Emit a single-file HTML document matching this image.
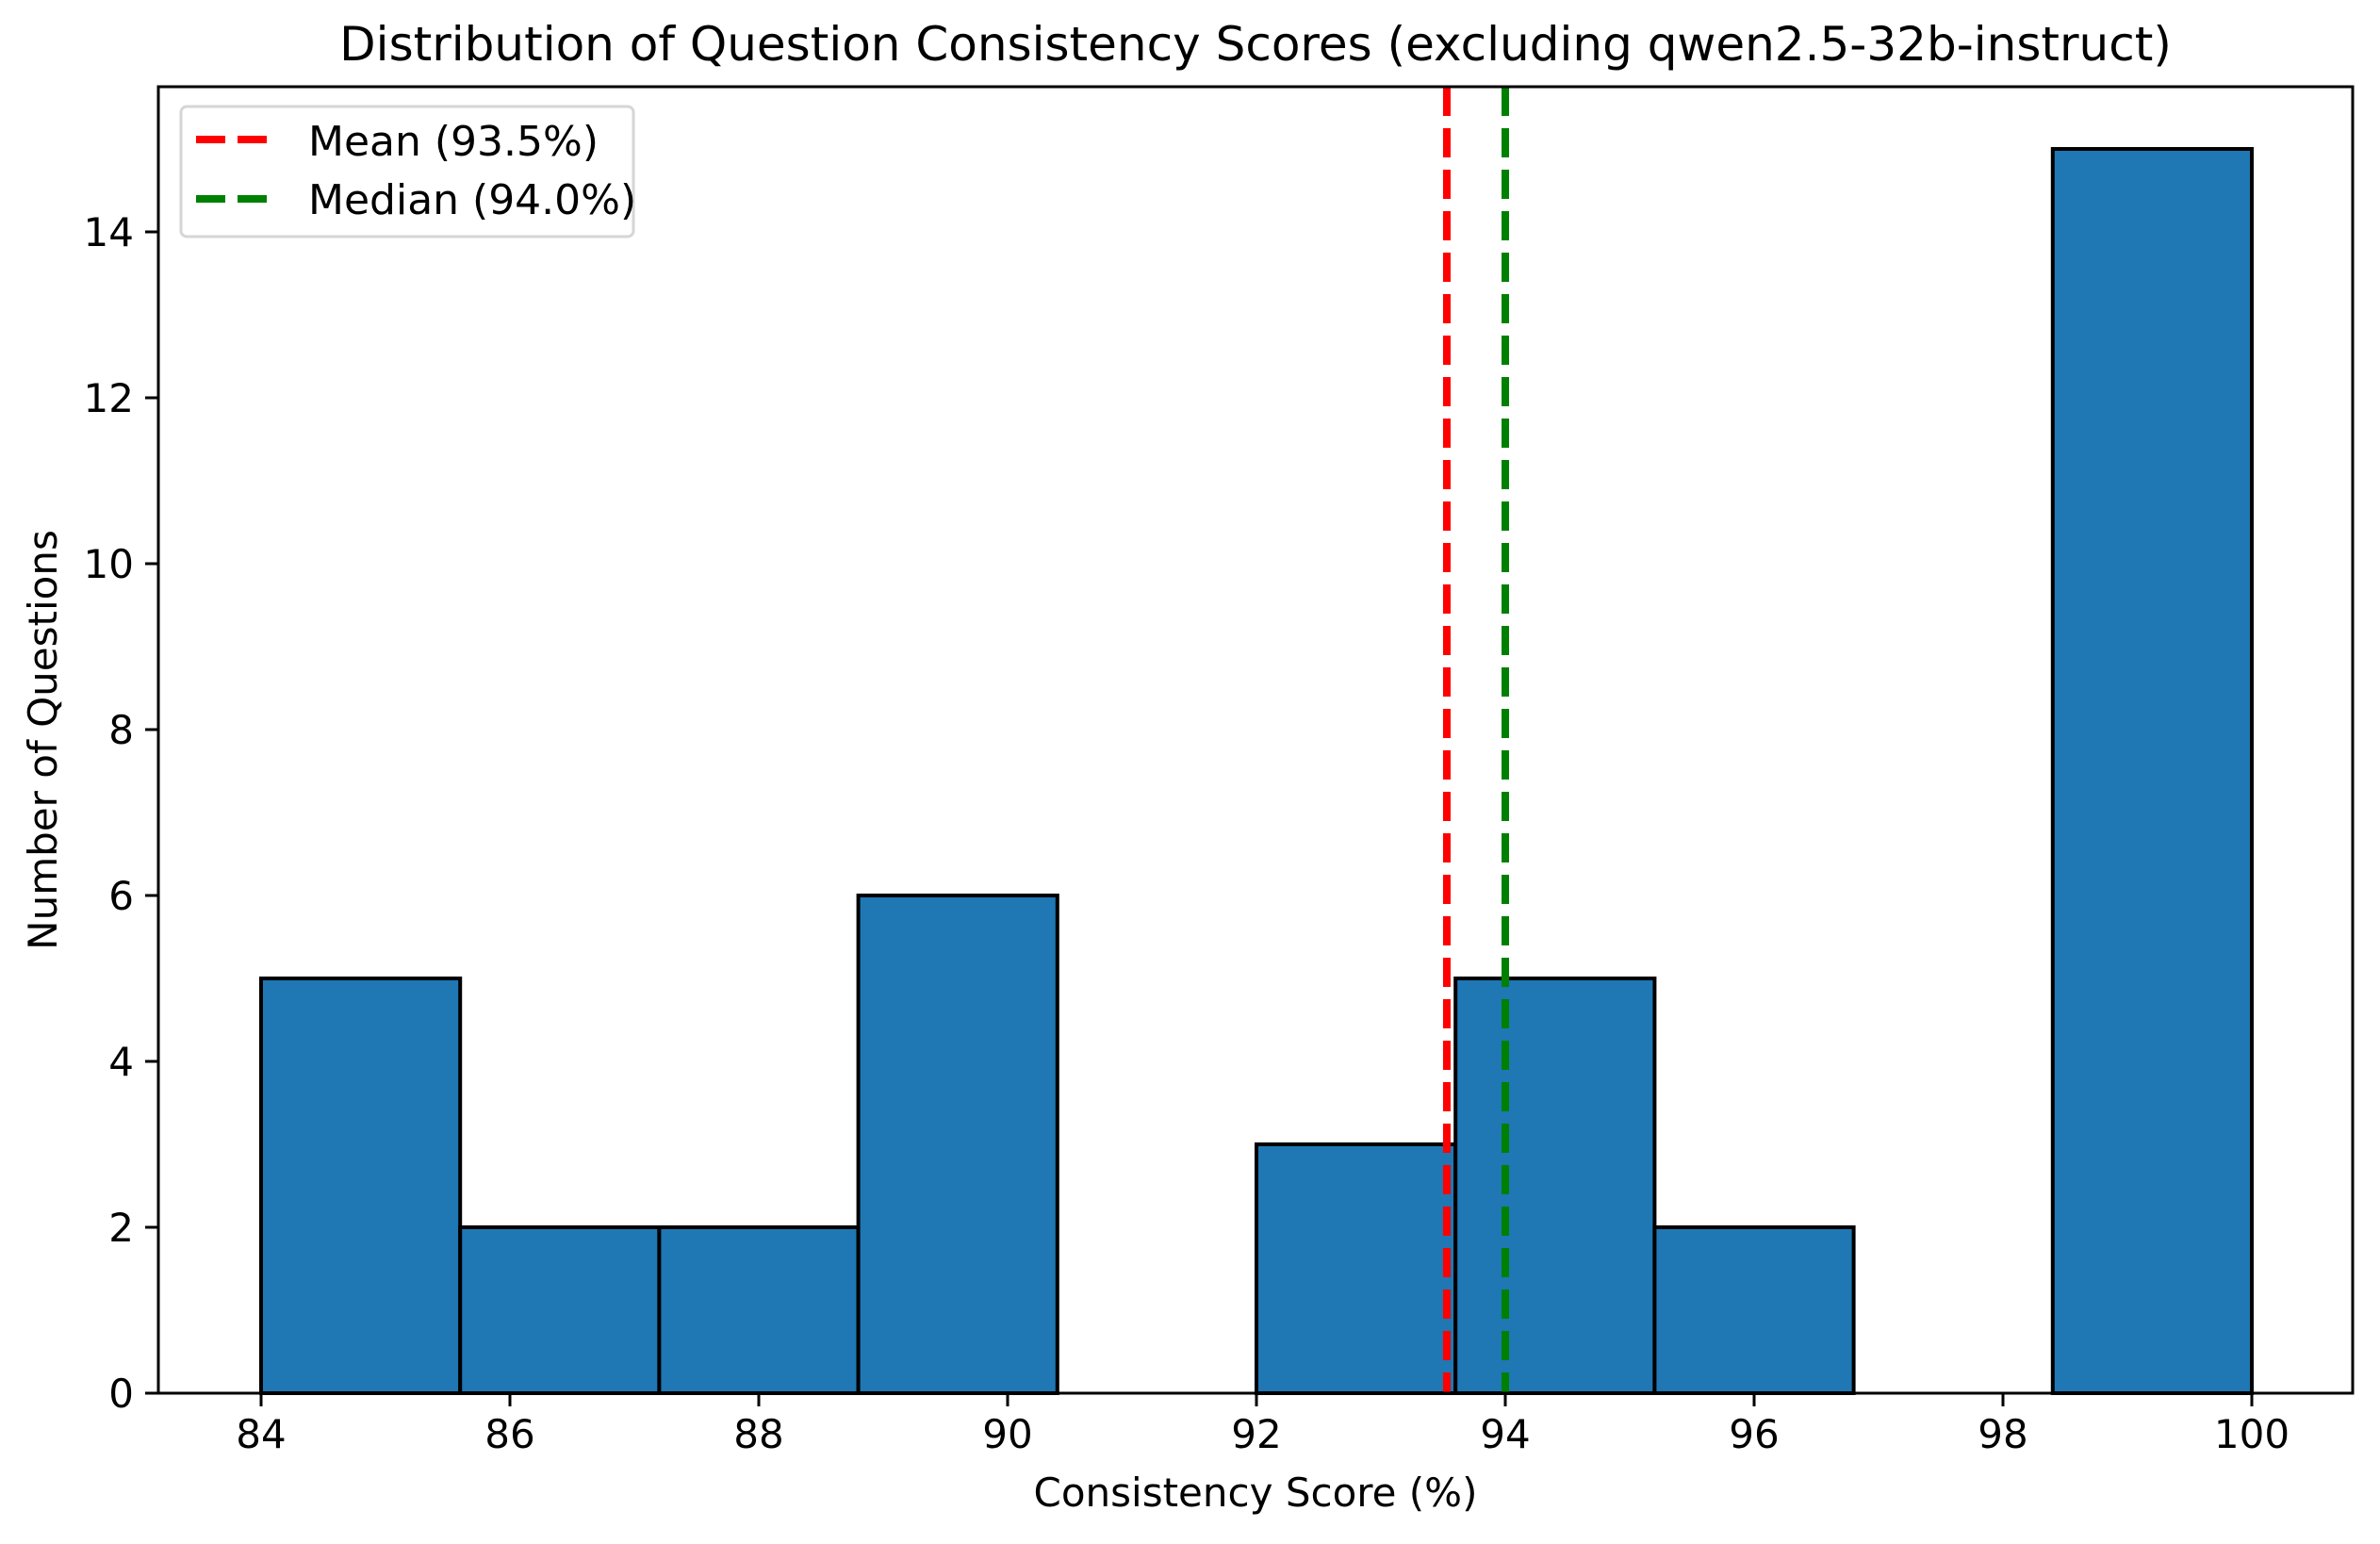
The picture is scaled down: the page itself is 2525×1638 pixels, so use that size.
<!DOCTYPE html>
<html><head><meta charset="utf-8"><style>
html,body{margin:0;padding:0;background:#fff;}
svg{display:block;font-family:"DejaVu Sans","Liberation Sans",sans-serif;}
</style></head><body>
<svg id="chart" width="2525" height="1638" viewBox="0 0 2525 1638" xmlns="http://www.w3.org/2000/svg">
<rect width="2525" height="1638" fill="#fff"/>
<text x="1332" y="64" font-size="50" text-anchor="middle">Distribution of Question Consistency Scores (excluding qwen2.5-32b-instruct)</text>
<g id="bars"></g>
<g id="xticks"></g>
<g id="yticks"></g>
<g id="refs"></g>
<rect x="168" y="92" width="2328" height="1386" fill="none" stroke="#000" stroke-width="3"/>
<text x="1332" y="1598" font-size="42" text-anchor="middle">Consistency Score (%)</text>
<text transform="translate(60,785) rotate(-90)" font-size="42" text-anchor="middle">Number of Questions</text>
<g>
<rect x="192" y="113" width="480" height="138" rx="6" fill="#fff" fill-opacity="0.8" stroke="#d6d6d6" stroke-width="3"/>
<g>
<line x1="208" y1="148" x2="283" y2="148" stroke="#ff0000" stroke-width="8" stroke-dasharray="31,13"/>
<text x="327" y="165" font-size="44">Mean (93.5%)</text></g>
<g>
<line x1="208" y1="211" x2="283" y2="211" stroke="#008000" stroke-width="8" stroke-dasharray="31,13"/>
<text x="327" y="227" font-size="44">Median (94.0%)</text></g>
</g>
</svg>
<script>
const binEdgesStart = 84;
const binWidth = 1.6;
const counts = [5, 2, 2, 6, 0, 3, 5, 2, 0, 15];
const xTickLabels = [84, 86, 88, 90, 92, 94, 96, 98, 100];
const yTickLabels = [0, 2, 4, 6, 8, 10, 12, 14];
const meanValue = 93.53;
const medianValue = 94.0;

const NS = 'http://www.w3.org/2000/svg';
const X = v => 277 + (v - 84) * 132;
const Y = v => 1478 - v * 88;
function mk(tag, attrs, parent) {
  const e = document.createElementNS(NS, tag);
  for (const k in attrs) e.setAttribute(k, attrs[k]);
  parent.appendChild(e);
  return e;
}
const bars = document.getElementById('bars');
counts.forEach((c, i) => {
  const x0 = X(binEdgesStart + i * binWidth), x1 = X(binEdgesStart + (i + 1) * binWidth);
  const r = mk('rect', {x: x0, y: Y(c), width: x1 - x0, height: Y(0) - Y(c), fill: '#1f77b4', stroke: '#000', 'stroke-width': 4}, bars);
  
  
});
const xt = document.getElementById('xticks');
xTickLabels.forEach(v => {
  const l = mk('line', {x1: X(v), x2: X(v), y1: 1478, y2: 1492, stroke: '#000', 'stroke-width': 3}, xt);
  
  
  const t = mk('text', {x: X(v), y: 1536, 'font-size': 42, 'text-anchor': 'middle'}, xt);
  t.textContent = v;
  
  
});
const yt = document.getElementById('yticks');
yTickLabels.forEach(v => {
  const l = mk('line', {x1: 154, x2: 168, y1: Y(v), y2: Y(v), stroke: '#000', 'stroke-width': 3}, yt);
  
  
  const t = mk('text', {x: 142, y: Y(v) + 15, 'font-size': 42, 'text-anchor': 'end'}, yt);
  t.textContent = v;
  
  
});
const refs = document.getElementById('refs');
const m = mk('line', {x1: X(meanValue), x2: X(meanValue), y1: 92, y2: 1478, stroke: '#ff0000', 'stroke-width': 8, 'stroke-dasharray': '31,13'}, refs);


const md = mk('line', {x1: X(medianValue), x2: X(medianValue), y1: 92, y2: 1478, stroke: '#008000', 'stroke-width': 8, 'stroke-dasharray': '31,13'}, refs);


</script>
</body></html>
